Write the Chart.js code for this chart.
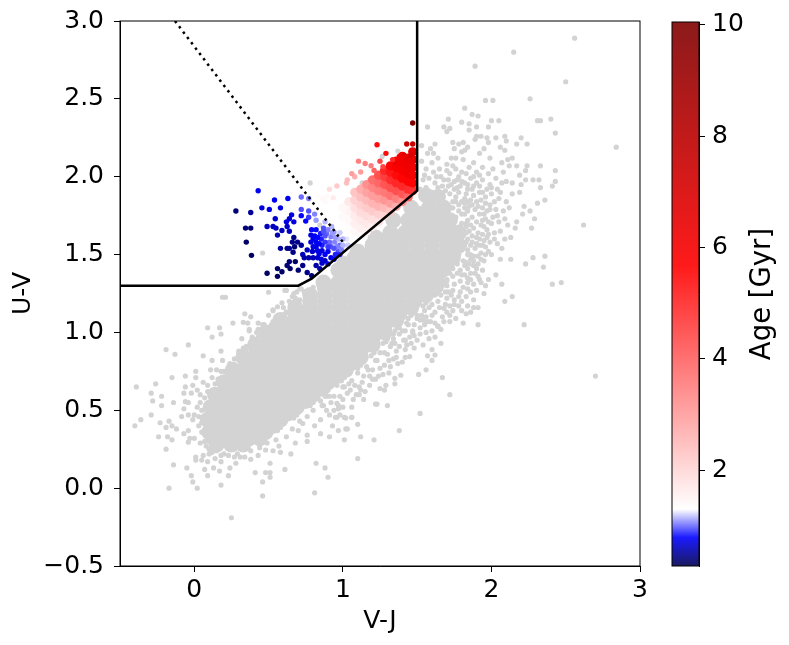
<!DOCTYPE html>
<html>
<head>
<meta charset="utf-8">
<title>UVJ diagram</title>
<script src="https://cdn.jsdelivr.net/npm/chart.js@4"></script>
<style>
  body { margin: 0; background: #fff; }
  #uvj { position: absolute; left: 0; top: 0; }
  #cbar { position: absolute; left: 640px; top: 0; }
</style>
</head>
<body>
<canvas id="uvj" width="789" height="645"></canvas>
<canvas id="cbar" width="149" height="645"></canvas>
<script>
// tick labels
const xTicks = [0, 1, 2, 3];
const yTicks = [-0.5, 0, 0.5, 1, 1.5, 2, 2.5, 3];
const ageTicks = [2, 4, 6, 8, 10];

// selection box and the dotted diagonal, V-J / U-V
const boxLine = [[-0.5, 1.3], [0.7, 1.3], [0.79, 1.345], [1.5, 1.91], [1.5, 3]];
const dotLine = [[-0.13, 3], [1.0, 1.58]];

// dense middle of the grey cloud, read row by row
const greyCore = [
  [.15,.28],[.25,.28],[.33,.28],
  [.13,.32],[.21,.32],[.29,.32],[.37,.32],[.44,.32],
  [.10,.36],[.20,.36],[.30,.36],[.40,.36],[.48,.36],
  [.15,.40],[.25,.40],[.35,.40],[.45,.40],[.53,.40],
  [.09,.44],[.19,.44],[.29,.44],[.39,.44],[.49,.44],[.58,.44],
  [.13,.48],[.23,.48],[.33,.48],[.43,.48],[.53,.48],[.63,.48],
  [.11,.52],[.21,.52],[.31,.52],[.41,.52],[.51,.52],[.61,.52],[.69,.52],
  [.17,.56],[.27,.56],[.37,.56],[.47,.56],[.57,.56],[.67,.56],[.75,.56],
  [.14,.60],[.24,.60],[.34,.60],[.44,.60],[.54,.60],[.64,.60],[.74,.60],[.80,.60],
  [.22,.64],[.32,.64],[.42,.64],[.52,.64],[.62,.64],[.72,.64],[.82,.64],[.86,.64],
  [.20,.68],[.30,.68],[.40,.68],[.50,.68],[.60,.68],[.70,.68],[.80,.68],[.90,.68],
  [.28,.72],[.38,.72],[.48,.72],[.58,.72],[.68,.72],[.78,.72],[.88,.72],[.96,.72],
  [.26,.76],[.36,.76],[.46,.76],[.56,.76],[.66,.76],[.76,.76],[.86,.76],[.96,.76],[1.02,.76],
  [.35,.80],[.45,.80],[.55,.80],[.65,.80],[.75,.80],[.85,.80],[.95,.80],[1.05,.80],
  [.33,.84],[.43,.84],[.53,.84],[.63,.84],[.73,.84],[.83,.84],[.93,.84],[1.03,.84],[1.12,.84],
  [.42,.88],[.52,.88],[.62,.88],[.72,.88],[.82,.88],[.92,.88],[1.02,.88],[1.12,.88],
  [.41,.92],[.51,.92],[.61,.92],[.71,.92],[.81,.92],[.91,.92],[1.01,.92],[1.11,.92],[1.20,.92],
  [.50,.96],[.60,.96],[.70,.96],[.80,.96],[.90,.96],[1.0,.96],[1.1,.96],[1.2,.96],
  [.49,1.0],[.59,1.0],[.69,1.0],[.79,1.0],[.89,1.0],[.99,1.0],[1.09,1.0],[1.19,1.0],[1.28,1.0],
  [.58,1.04],[.68,1.04],[.78,1.04],[.88,1.04],[.98,1.04],[1.08,1.04],[1.18,1.04],[1.28,1.04],
  [.58,1.08],[.68,1.08],[.78,1.08],[.88,1.08],[.98,1.08],[1.08,1.08],[1.18,1.08],[1.28,1.08],[1.36,1.08],
  [.68,1.12],[.78,1.12],[.88,1.12],[.98,1.12],[1.08,1.12],[1.18,1.12],[1.28,1.12],[1.38,1.12],
  [.68,1.16],[.78,1.16],[.88,1.16],[.98,1.16],[1.08,1.16],[1.18,1.16],[1.28,1.16],[1.38,1.16],[1.46,1.16],
  [.78,1.20],[.88,1.20],[.98,1.20],[1.08,1.20],[1.18,1.20],[1.28,1.20],[1.38,1.20],[1.48,1.20],
  [.78,1.24],[.88,1.24],[.98,1.24],[1.08,1.24],[1.18,1.24],[1.28,1.24],[1.38,1.24],[1.48,1.24],[1.56,1.24],
  [.88,1.28],[.98,1.28],[1.08,1.28],[1.18,1.28],[1.28,1.28],[1.38,1.28],[1.48,1.28],[1.58,1.28],
  [.87,1.32],[.97,1.32],[1.07,1.32],[1.17,1.32],[1.27,1.32],[1.37,1.32],[1.47,1.32],[1.57,1.32],[1.64,1.32],
  [1.0,1.36],[1.1,1.36],[1.2,1.36],[1.3,1.36],[1.4,1.36],[1.5,1.36],[1.6,1.36],
  [.97,1.40],[1.07,1.40],[1.17,1.40],[1.27,1.40],[1.37,1.40],[1.47,1.40],[1.57,1.40],[1.67,1.40],
  [1.01,1.44],[1.1,1.44],[1.2,1.44],[1.3,1.44],[1.4,1.44],[1.5,1.44],[1.6,1.44],[1.7,1.44],
  [1.08,1.48],[1.18,1.48],[1.28,1.48],[1.38,1.48],[1.48,1.48],[1.58,1.48],[1.68,1.48],[1.74,1.48],
  [1.1,1.52],[1.2,1.52],[1.3,1.52],[1.4,1.52],[1.5,1.52],[1.6,1.52],[1.7,1.52],
  [1.2,1.56],[1.3,1.56],[1.4,1.56],[1.5,1.56],[1.6,1.56],[1.7,1.56],[1.78,1.56],
  [1.22,1.61],[1.3,1.60],[1.4,1.60],[1.5,1.60],[1.6,1.60],[1.7,1.60],
  [1.32,1.64],[1.42,1.64],[1.52,1.64],[1.62,1.64],[1.72,1.64],[1.78,1.64],
  [1.45,1.68],[1.55,1.68],[1.65,1.68],
  [1.34,1.72],[1.44,1.72],[1.54,1.72],[1.64,1.72],[1.72,1.72],
  [1.46,1.80],[1.58,1.80],[1.68,1.80],[1.56,1.88],[1.64,1.87],[1.52,1.76],[1.62,1.76]
];

// single grey points around the core
const greyPoints = [
  // far left and below
  [.19,1.226],[.21,1.226],[.50,1.258],[.09,1.03],[.17,1.03],[.26,1.06],[.34,1.12],[.38,1.10],[.33,1.065],[.36,1.06],
  [.43,1.06],[.47,1.05],[.53,1.145],[.59,1.19],[.56,1.165],[.12,.97],[.18,.99],[.37,1.01],[.32,.96],[-.04,.92],
  [-.19,.89],[-.13,.86],[.06,.85],[.18,.88],[.12,.82],[.19,.82],[.24,.80],[.01,.75],[-.06,.72],[.01,.71],
  [-.15,.71],[-.26,.67],[-.39,.65],[-.29,.61],[-.28,.56],[-.22,.59],[-.22,.53],[-.14,.55],[-.29,.47],[-.36,.44],
  [-.40,.40],[-.23,.42],[-.17,.43],[-.19,.39],[-.15,.40],[-.12,.38],[-.24,.33],[-.18,.33],[-.15,.31],[-.19,.25],
  [-.14,.15],[-.17,0],[-.05,.13],[-.02,.08],[-.01,.04],[.02,0],[.18,.02],[.25,-.19],[.46,-.05],[.46,.04],
  [.41,.10],[.48,.10],[.51,.10],[.51,.07],[.61,.12],[.81,-.03],[.90,.07],[.88,.13],[.82,.16],[1.10,.19],
  [1.21,.31],[1.12,.33],[1.01,.31],[.91,.33],[.51,.16],[.23,.08],[.09,.08],[.07,.12],[.17,.11],[.13,.13],
  [.18,.17],[.09,.17],[.05,.18],[.01,.20],[.28,.16],[.24,.13],
  // lower right edge
  [1.22,.54],[1.07,.57],[1.09,.60],[1.12,.63],[1.15,.62],[1.18,.66],[1.22,.70],[1.05,.63],[1.0,.65],[.96,.66],
  [.98,.59],[.94,.59],[.89,.59],[.87,.53],[.97,.53],[.97,.51],[.89,.50],[.91,.47],[.96,.455],[1.01,.455],
  [1.06,.455],[1.10,.41],[.93,.40],[.97,.37],[1.03,.38],[.85,.44],[.81,.40],[.76,.34],[.76,.30],[.68,.29],
  [.65,.22],[.70,.37],[.73,.415],[.85,.35],[.57,.27],[.58,.23],[.53,.24],[.48,.245],[.43,.21],[.38,.185],
  [1.23,.54],[1.30,.53],[1.52,.48],[1.38,.37],[1.02,.38],[1.06,.455],[1.02,.45],[.98,.47],[.95,.455],[.96,.545],
  [.86,.53],[1.0,.57],[1.11,.60],[1.03,.61],[.91,.59],[.88,.59],[1.20,.70],[1.11,.65],[1.04,.67],[1.01,.65],
  [1.28,.63],[1.29,.66],[1.35,.705],[1.39,.725],[1.35,.67],[1.27,.73],[1.51,.73],[1.56,.76],[1.67,.71],[1.72,.60],
  [1.60,.82],[1.57,.85],[1.62,.855],[1.60,.89],[1.66,.93],[1.62,.97],[1.56,1.0],[1.64,1.04],[1.47,1.0],[1.45,.97],
  [1.41,.95],[1.46,.93],[1.38,.91],[1.42,.89],[1.45,.845],[1.40,.81],[1.37,.80],[1.34,.83],[1.28,.79],[1.23,.82],
  [1.32,.91],[1.35,.93],[1.29,.94],[1.50,1.11],[1.56,1.10],[1.62,1.13],[1.68,1.155],[1.59,1.07],[1.52,1.08],[1.71,1.26],
  [1.14,.72],[1.10,.74],[1.06,.69],[1.16,.78],[1.20,.76],[1.25,.87],[1.30,.86],[1.34,.96],[1.40,1.01],[1.43,1.06],
  [.92,.55],[.85,.56],[.80,.50],[.76,.46],[.71,.43],[.66,.38],[.62,.33],[.55,.31],[.49,.29],[.44,.26],
  [.38,.24],[.34,.20],[.27,.20],[.23,.21],[.18,.21],[.14,.19],[.10,.25],[.07,.30],
  [.45,.29],[.47,.31],[.56,.37],[.58,.39],[.67,.45],[.69,.47],[.78,.53],[.80,.55],[.88,.61],[.90,.63],
  [.99,.69],[1.01,.71],[1.1,.77],[1.12,.79],[1.19,.85],[1.21,.87],[1.27,.93],[1.29,.95],[1.35,1.01],[1.37,1.03],
  [1.44,1.09],[1.46,1.11],[1.54,1.17],[1.56,1.19],[1.63,1.25],[1.65,1.27],[1.70,1.33],[1.74,1.41],[1.78,1.50],
  [1.32,.78],[1.36,.84],[1.42,.84],[1.48,.90],[1.50,.95],[1.54,.92],[1.58,.96],[1.60,1.01],[1.66,1.02],[1.68,1.07],
  [1.72,1.11],[1.76,1.09],[1.80,1.14],[1.84,1.17],[1.88,1.16],[1.75,1.18],[1.70,1.13],[1.54,1.08],[1.48,.98],[1.43,.92],
  [1.31,.74],[1.24,.72],[1.18,.72],[1.13,.68],[1.08,.66],[.94,.50],[1.0,.52],[1.06,.52],[1.14,.57],[1.25,.64],
  // left edge
  [-.06,.555],[-.07,.61],[-.02,.61],[-.01,.66],[-.06,.65],[.02,.63],[-.04,.55],[-.07,.51],[-.085,.46],[-.04,.47],
  [-.01,.44],[.03,.40],[-.04,.37],[-.07,.35],[-.03,.32],[-.04,.295],[0,.32],[.04,.29],[.11,.76],[.15,.76],
  [.18,.75],[.09,.66],[.04,.60],[.02,.52],[.0,.47],[.05,.36],[.08,.27],[.12,.23],[.06,.68],[.12,.71],[.16,.70],
  [.05,.42],[.05,.50],[.07,.58],[.09,.62],[.10,.30],[.03,.46],[.04,.55],[.14,.67],[.2,.75],[.27,.83],
  // upper edge
  [.42,1.0],[.39,.96],[.33,.90],[.30,.87],[.29,.83],[.48,.98],[.53,1.07],[.57,1.09],[.62,1.13],[.64,1.20],
  [.61,1.27],[.69,1.26],[.66,1.23],[.72,1.28],[.25,.78],[.22,.74],[.45,1.02],[.60,1.16],[.68,1.22],
  [.39,.97],[.37,1.02],[.43,1.02],[.46,1.05],[.50,1.11],[.53,1.14],[.61,1.12],[.62,1.27],[.67,1.25],[.71,1.28],
  [.55,1.08],[.45,.98],[.41,.94],[.35,.91],[.30,.88],[.52,1.0],[.60,1.08],
  [.35,.89],[.43,.97],[.52,1.05],[.62,1.13],[.71,1.21],[.8,1.29],[.74,1.26],[.65,1.17],[.56,1.1],[.47,1.0],
  // under the core
  [.15,.24],[.20,.22],[.29,.22],[.31,.20],[.10,.22],[.06,.21],[.01,.18],
  // upper right, outer
  [2.56,2.89],[2.15,2.80],[1.89,2.71],[2.50,2.61],[2.26,2.50],[1.96,2.49],[2.01,2.49],[1.82,2.44],[1.87,2.40],[1.91,2.39],
  [1.71,2.37],[2.40,2.37],[2.0,2.36],[2.05,2.36],[2.31,2.36],[2.33,2.36],[1.80,2.35],[1.85,2.34],[1.57,2.32],[1.68,2.32],
  [1.72,2.31],[1.90,2.32],[1.98,2.32],[1.85,2.30],[1.70,2.29],[2.43,2.28],[2.84,2.19],[2.20,2.25],[2.09,2.26],[2.03,2.25],
  [1.97,2.25],[1.93,2.26],[1.90,2.26],[1.89,2.24],[1.98,2.22],[2.10,2.23],[2.17,2.21],[2.24,2.21],[2.06,2.19],[2.09,2.17],
  [1.95,2.18],[1.74,2.22],[1.78,2.21],[1.81,2.22],[1.62,2.21],[1.59,2.18],[1.53,2.20],[1.57,2.15],[1.61,2.15],[1.75,2.18],
  [1.84,2.19],[1.82,2.17],[1.80,2.16],[1.92,2.15],[1.99,2.12],[2.14,2.12],[2.11,2.11],[2.07,2.09],[1.81,2.11],[1.64,2.12],
  [1.73,2.12],[1.76,2.12],[1.88,2.09],[2.12,2.07],[2.17,2.07],[2.24,2.07],[2.33,2.07],[2.43,2.04],[2.23,2.04],[2.19,2.01],
  [2.08,2.03],[2.01,2.05],[2.32,1.98],[2.28,1.98],[2.43,1.97],[2.41,1.94],[2.33,1.93],[2.23,1.98],[2.20,1.95],[2.14,1.96],
  [2.10,1.97],[2.07,1.96],[2.19,1.90],[2.14,1.89],[2.36,1.85],[2.31,1.83],[2.22,1.81],[2.26,1.78],[2.21,1.76],[2.29,1.73],
  [2.17,1.71],[2.62,1.69],[2.27,1.67],[2.16,1.67],[2.11,1.69],[2.13,1.61],[2.36,1.49],[2.28,1.48],[2.35,1.42],[2.23,1.44],
  [2.13,1.47],[2.06,1.47],[2.41,1.31],[2.07,1.31],[2.03,1.37],[2.14,1.23],[2.09,1.20],[1.91,1.16],[1.88,1.21],[1.95,1.25],
  [1.72,1.17],[1.91,1.05],[1.81,1.06],[1.83,1.12],[1.86,1.13],[1.78,1.17],[1.64,1.04],[1.72,1.07],
  [2.70,.72],[2.47,1.32],[2.22,1.05],
  // upper right, inner crowd
  [1.53,2.10],[1.56,2.05],[1.60,2.09],[1.65,2.05],[1.70,2.08],[1.54,1.98],[1.58,1.99],[1.63,2.0],[1.68,1.98],[1.72,2.02],
  [1.76,2.05],[1.80,2.03],[1.85,2.06],[1.90,2.03],[1.94,2.06],[1.98,2.02],[2.03,1.99],[1.52,1.92],[1.56,1.93],[1.60,1.90],
  [1.64,1.93],[1.69,1.91],[1.73,1.95],[1.77,1.98],[1.82,1.96],[1.86,1.99],[1.90,1.96],[1.94,1.98],[1.99,1.95],[2.04,1.92],
  [1.78,1.90],[1.83,1.89],[1.87,1.92],[1.92,1.90],[1.96,1.87],[2.0,1.89],[2.05,1.86],[2.10,1.84],[1.74,1.84],[1.80,1.84],
  [1.85,1.81],[1.90,1.84],[1.94,1.80],[1.99,1.82],[2.03,1.79],[2.08,1.78],[2.12,1.80],[1.82,1.76],[1.87,1.74],[1.92,1.76],
  [1.96,1.73],[2.01,1.74],[2.05,1.71],[2.09,1.73],[1.83,1.68],[1.88,1.67],[1.93,1.69],[1.97,1.66],[2.02,1.64],[2.06,1.65],
  [2.09,1.60],[1.84,1.60],[1.90,1.61],[1.95,1.59],[1.99,1.58],[2.04,1.57],[2.07,1.54],[1.84,1.53],[1.89,1.54],[1.93,1.51],
  [1.98,1.52],[1.81,1.46],[1.86,1.47],[1.91,1.44],[1.95,1.46],[1.79,1.40],[1.84,1.41],[1.89,1.38],[1.94,1.40],[1.74,1.36],
  [1.79,1.33],[1.84,1.35],[1.88,1.31],[1.93,1.32],[1.98,1.34],[1.70,1.30],[1.74,1.27],[1.79,1.26],[1.84,1.28],[1.90,1.27],
  [1.66,1.24],[1.70,1.22],[1.75,1.21],[1.80,1.20],[1.60,1.18],[1.65,1.16],[1.55,1.14],[1.60,1.11],[1.50,1.09],[1.55,1.05],
  [1.44,1.05],[1.47,1.01],[1.52,.99],[1.38,.99],[1.42,.95],[1.33,.93],[1.36,.88],[1.28,.87],[1.31,.82],[1.22,.82],[1.25,.77],[1.17,.76],
  [1.55,2.01],[1.62,1.96],[1.67,1.94],[1.71,1.98],[1.75,1.92],[1.79,1.94],[1.84,1.92],[1.88,1.88],[1.92,1.94],[1.97,1.92],
  [1.76,1.87],[1.82,1.80],[1.86,1.85],[1.89,1.79],[1.93,1.85],[1.97,1.78],[2.02,1.84],[2.06,1.90],[1.78,1.78],[1.84,1.72],
  [1.80,1.70],[1.85,1.65],[1.90,1.71],[1.95,1.68],[2.0,1.70],[2.04,1.75],[1.81,1.63],[1.87,1.58],[1.92,1.56],[1.97,1.61],
  [2.02,1.60],[1.82,1.56],[1.86,1.50],[1.91,1.49],[1.96,1.55],[2.0,1.50],[1.78,1.51],[1.77,1.44],[1.83,1.45],[1.88,1.43],
  [1.72,1.38],[1.77,1.38],[1.82,1.37],[1.86,1.34],[1.91,1.36],[1.96,1.30],[1.70,1.34],[1.75,1.31],[1.81,1.29],[1.86,1.26],
  [1.66,1.28],[1.69,1.26],[1.73,1.24],[1.78,1.23],[1.83,1.23],[1.62,1.24],[1.64,1.20],[1.69,1.18],[1.74,1.14],[1.58,1.16],
  [1.53,1.11],[1.57,1.07],[1.62,1.06],[1.67,1.10],[1.48,1.05],[1.52,1.03],[1.42,1.01],[1.38,1.03],[1.34,.99],[1.30,.96],
  [1.61,2.03],[1.66,2.00],[1.70,2.04],[1.74,2.07],[1.78,2.0],[1.83,2.02],[1.88,2.0],[1.92,2.01],[1.75,1.97],[1.80,1.97],
  [1.84,1.95],[1.88,1.94],[1.71,1.94],[1.77,1.93],[1.72,1.89],[1.76,1.84],[1.82,1.86],[1.84,1.84],[1.78,1.82],[1.74,1.80],
  [1.82,1.83],[1.87,1.82],[1.84,1.78],[1.80,1.76],[1.76,1.74],[1.79,1.68],[1.83,1.70],[1.86,1.69],[1.80,1.66],[1.83,1.64],
  [1.87,1.62],[1.83,1.58],[1.86,1.56],[1.80,1.53],[1.84,1.50],[1.88,1.49],[1.82,1.43],[1.85,1.44],[1.80,1.37],[1.84,1.32],
  [2.0,1.93],[1.94,1.90],[1.96,1.83],[1.91,1.81],[1.95,1.76],[1.99,1.79],[1.94,1.72],[1.98,1.71],[1.91,1.64],[1.94,1.63],
  [1.98,1.63],[1.92,1.60],[1.90,1.57],[1.94,1.56],[1.96,1.50],[1.93,1.47],[1.88,1.46],[1.90,1.41],[1.86,1.38],[1.92,1.34],
  // grey points among the coloured ones
  [.78,1.96],[.46,1.51],[1.265,2.13],[1.37,2.165],[1.13,1.96],[.845,1.69],[1.18,1.98]
];

// coloured points inside the box: V-J, U-V, age in Gyr
const boxYoung = [
  [.43,1.91,.75],[.54,1.85,.75],[.63,1.86,.75],[.28,1.78,.4],[.38,1.77,.5],[.455,1.80,.7],[.505,1.79,.7],[.58,1.80,.7],
  [.72,1.87,1.0],[.77,1.86,1.05],[.72,1.79,.95],[.77,1.78,.95],[.72,1.75,.8],[.655,1.755,.7],[.545,1.73,.65],[.64,1.73,.65],
  [.62,1.71,.7],[.67,1.71,.7],[.77,1.74,.9],[.75,1.715,.8],[.81,1.76,1.05],[.345,1.67,.4],[.38,1.67,.4],[.49,1.68,.6],
  [.53,1.68,.6],[.55,1.67,.6],[.625,1.68,.65],[.59,1.655,.6],[.64,1.65,.6],[.56,1.625,.55],[.35,1.58,.35],[.385,1.495,.35],
  [.58,1.54,.5],[.67,1.61,.45],[.66,1.58,.45],[.695,1.58,.45],[.64,1.54,.5],[.625,1.54,.45],[.72,1.56,.5],[.675,1.55,.4],
  [.665,1.515,.45],[.76,1.53,.6],[.73,1.50,.6],[.74,1.48,.55],[.77,1.48,.55],[.795,1.52,.65],[.80,1.48,.6],[.83,1.525,.7],
  [.83,1.48,.65],[.86,1.525,.7],[.88,1.46,.6],[.90,1.52,.75],[.92,1.48,.7],[.855,1.47,.7],[.64,1.455,.4],[.68,1.455,.35],
  [.73,1.43,.45],[.625,1.43,.4],[.645,1.41,.35],[.70,1.40,.4],[.56,1.41,.35],[.59,1.39,.35],[.49,1.38,.35],[.56,1.36,.35],
  [.76,1.385,.45],[.79,1.365,.4],[.82,1.43,.55],[.845,1.41,.55],
  [.82,1.72,1.1],[.88,1.71,1.15],[.925,1.68,1.15],[.98,1.64,1.2],[1.025,1.60,1.25],[1.035,1.56,1.2],[1.0,1.60,1.15],
  [.94,1.645,1.1],[.92,1.615,1.05],[.945,1.58,1.05],[.89,1.635,1.0],[.91,1.58,1.0],[.98,1.56,1.0],[.97,1.52,.95],[.98,1.50,.85],
  [.87,1.67,.95],[.85,1.635,.85],[.855,1.60,.85],[.79,1.66,.8],[.82,1.66,.8],[.785,1.625,.7],[.81,1.62,.75],[.785,1.58,.7],[.82,1.58,.75],
  [.97,1.6,1.15],[.95,1.61,1.1],[.93,1.64,1.1],[.9,1.66,1.05],[1.0,1.56,1.15],[.96,1.55,1.05],[.99,1.53,1.05],[.94,1.54,.95],
  [.92,1.55,.95],[.9,1.55,.9],[.95,1.5,.85],[.94,1.47,.8],[.88,1.62,.95],[.87,1.65,.95],[.88,1.58,.9],[.86,1.56,.85],
  [.88,1.5,.78],[.84,1.505,.72],[.9,1.44,.7],[.86,1.445,.65],[.84,1.57,.75],[.83,1.61,.8],[.80,1.60,.75],[.80,1.55,.7],[.82,1.55,.72]
];
const boxFill = [
  [1.0,1.54,1.28],[1.02,1.62,1.3],[1.04,1.58,1.3],[1.0,1.68,1.32],[1.04,1.66,1.35],[1.04,1.72,1.4],[1.0,1.74,1.38],[1.04,1.78,1.5],[1.0,1.8,1.42],[1.04,1.84,1.7],
  [1.08,1.6,1.32],[1.08,1.65,1.42],[1.08,1.7,1.55],[1.08,1.75,1.65],[1.08,1.8,1.85],[1.08,1.85,2.05],[1.08,1.9,2.3],
  [1.12,1.62,1.38],[1.12,1.67,1.55],[1.12,1.72,1.7],[1.12,1.77,1.9],[1.12,1.82,2.1],[1.12,1.87,2.4],[1.12,1.92,2.7],
  [1.16,1.65,1.5],[1.16,1.7,1.7],[1.16,1.75,1.9],[1.16,1.8,2.2],[1.16,1.85,2.5],[1.16,1.9,2.9],[1.16,1.95,3.2],
  [1.2,1.68,1.6],[1.2,1.73,1.85],[1.2,1.78,2.2],[1.2,1.83,2.6],[1.2,1.88,3],[1.2,1.93,3.4],[1.2,1.98,3.8],
  [1.24,1.71,1.8],[1.24,1.76,2.1],[1.24,1.81,2.6],[1.24,1.86,3],[1.24,1.91,3.5],[1.24,1.96,3.9],[1.24,2.01,4.3],
  [1.28,1.75,2.0],[1.28,1.8,2.5],[1.28,1.85,3.1],[1.28,1.9,3.6],[1.28,1.95,4.2],[1.28,2.0,4.6],[1.28,2.04,5],
  [1.32,1.78,2.3],[1.32,1.83,3],[1.32,1.88,3.7],[1.32,1.93,4.3],[1.32,1.98,4.9],[1.32,2.03,5.3],[1.32,2.07,5.6],
  [1.36,1.81,2.7],[1.36,1.86,3.5],[1.36,1.91,4.3],[1.36,1.96,5],[1.36,2.01,5.5],[1.36,2.06,5.8],[1.36,2.1,6],
  [1.4,1.84,3.2],[1.4,1.89,4.2],[1.4,1.94,5],[1.4,1.99,5.6],[1.4,2.04,5.9],[1.4,2.09,6.1],[1.4,2.13,6.2],
  [1.44,1.87,3.9],[1.44,1.92,4.9],[1.44,1.97,5.6],[1.44,2.02,6],[1.44,2.07,6.2],[1.44,2.12,6.3],
  [1.47,1.91,4.8],[1.47,1.96,5.6],[1.47,2.01,6],[1.47,2.06,6.2],[1.47,2.11,6.4],[1.47,2.16,6.6]
];
const boxOld = [
  [.89,1.875,1.4],[.86,1.86,1.4],[.835,1.875,1.35],[.88,1.84,1.4],[.935,1.865,1.6],[.91,1.92,1.9],[.96,1.94,2.2],[1.025,1.96,2.4],
  [1.03,1.98,2.5],[1.08,2.0,2.7],[1.06,2.02,3],[1.12,2.03,3],[1.105,2.10,3.5],[1.15,2.085,3.5],[1.19,2.07,3.5],[1.21,2.04,4],
  [1.25,2.10,4.5],[1.27,2.065,4.5],[1.335,2.11,5],[1.29,2.15,5.5],[1.23,2.205,5.5],[1.38,2.13,6],[1.41,2.14,6.5],[1.43,2.12,6.5],
  [1.46,2.14,7],[1.43,2.21,7.5],[1.47,2.21,7.5],[1.47,2.345,10]
];

// colour map anchors (seismic stretched around 1.3 Gyr)
const ageStops = [0.28, 0.79, 1.3, 5.67, 10.05];
const ageColors = [[0, 0, 77], [0, 0, 255], [255, 255, 255], [255, 0, 0], [127, 0, 0]];

function ageRgb(age) {
  let i = 0;
  while (i < ageStops.length - 2 && age > ageStops[i + 1]) i++;
  const t = Math.min(1, Math.max(0, (age - ageStops[i]) / (ageStops[i + 1] - ageStops[i])));
  return ageColors[i].map((c, k) => Math.round(c + (ageColors[i + 1][k] - c) * t));
}

const toXY = p => ({ x: p[0], y: p[1], age: p[2] });
const ageFill = ctx => {
  const c = ageRgb(ctx.raw ? ctx.raw.age : 1.3);
  return `rgb(${c[0]},${c[1]},${c[2]})`;
};

const font = size => ({ family: "DejaVu Sans", size: size });

const frame = {
  id: "frame",
  afterDraw(chart) {
    const a = chart.chartArea, g = chart.ctx;
    g.save();
    g.strokeStyle = "#000";
    g.lineWidth = 1;
    g.strokeRect(a.left, a.top, a.right - a.left, a.bottom - a.top);
    g.restore();
  }
};

new Chart(document.getElementById("uvj"), {
  type: "scatter",
  data: {
    datasets: [
      { data: greyCore.map(toXY), backgroundColor: "#d3d3d3", pointRadius: 8, borderWidth: 0, order: 7 },
      { data: greyPoints.map(toXY), backgroundColor: "#d3d3d3", pointRadius: 2.6, borderWidth: 0, order: 6 },
      { data: boxFill.map(toXY), backgroundColor: ageFill, pointRadius: 4.6, borderWidth: 0, order: 5 },
      { data: boxOld.map(toXY), backgroundColor: ageFill, pointRadius: 2.7, borderWidth: 0, order: 4 },
      { data: boxYoung.map(toXY), backgroundColor: ageFill, pointRadius: 2.7, borderWidth: 0, order: 3 },
      { type: "line", data: dotLine.map(toXY), borderColor: "#000", borderWidth: 2.5, borderDash: [2.5, 4.2], pointRadius: 0, order: 2 },
      { type: "line", data: boxLine.map(toXY), borderColor: "#000", borderWidth: 2.5, pointRadius: 0, order: 1 }
    ]
  },
  options: {
    responsive: false,
    animation: false,
    devicePixelRatio: 1,
    layout: { padding: { top: 21, right: 149, left: 0, bottom: 0 } },
    plugins: { legend: { display: false }, tooltip: { enabled: false } },
    scales: {
      x: {
        type: "linear", min: -0.5, max: 3,
        afterFit: s => { s.height = 79; },
        afterBuildTicks: s => { s.ticks = xTicks.map(v => ({ value: v })); },
        grid: { drawOnChartArea: false, color: "#000", tickLength: 6 },
        border: { color: "#000" },
        ticks: { color: "#000", font: font(25), maxRotation: 0, padding: 3, callback: v => String(v) },
        title: { display: true, text: "V-J", color: "#000", font: font(25), padding: 9 }
      },
      y: {
        type: "linear", min: -0.5, max: 3,
        // tick padding would otherwise push the plot top down
        afterFit: s => { s.width = 120; s.paddingTop = 0; s.paddingBottom = 0; },
        afterBuildTicks: s => { s.ticks = yTicks.map(v => ({ value: v })); },
        grid: { drawOnChartArea: false, color: "#000", tickLength: 6 },
        border: { color: "#000" },
        ticks: { color: "#000", font: font(25), padding: 10, callback: v => v.toFixed(1).replace("-", "\u2212") },
        title: { display: true, text: "U-V", color: "#000", font: font(25), padding: 8 }
      }
    }
  },
  plugins: [frame]
});

// colour bar: one floating bar over the age range
const ageTitle = {
  id: "ageTitle",
  afterDraw(chart) {
    const a = chart.chartArea, g = chart.ctx;
    g.save();
    g.translate(123, (a.top + a.bottom) / 2);
    g.rotate(-Math.PI / 2);
    g.fillStyle = "#000";
    g.font = "27.5px 'DejaVu Sans'";
    g.textAlign = "center";
    g.textBaseline = "middle";
    g.fillText("Age [Gyr]", 0, 0);
    g.restore();
  }
};

new Chart(document.getElementById("cbar"), {
  type: "bar",
  data: {
    labels: ["Age"],
    datasets: [{
      data: [[ageStops[0], ageStops[4]]],
      barPercentage: 1,
      categoryPercentage: 1,
      backgroundColor(ctx) {
        const a = ctx.chart.chartArea;
        if (!a) return "#fff";
        const grad = ctx.chart.ctx.createLinearGradient(0, a.bottom, 0, a.top);
        ageStops.forEach((s, i) => {
          const c = ageColors[i].map(v => Math.round(v * 0.9 + 25.5));
          grad.addColorStop((s - ageStops[0]) / (ageStops[4] - ageStops[0]), `rgb(${c[0]},${c[1]},${c[2]})`);
        });
        return grad;
      }
    }]
  },
  options: {
    responsive: false,
    animation: false,
    devicePixelRatio: 1,
    layout: { padding: { top: 21, left: 32, right: 0, bottom: 79 } },
    plugins: { legend: { display: false }, tooltip: { enabled: false } },
    scales: {
      x: { display: false },
      y: {
        position: "right", min: ageStops[0], max: ageStops[4],
        afterFit: s => { s.width = 90; },
        afterBuildTicks: s => { s.ticks = ageTicks.map(v => ({ value: v })); },
        grid: { drawOnChartArea: false, color: "#000", tickLength: 6 },
        border: { color: "#000" },
        ticks: { color: "#000", font: font(25), padding: 7 }
      }
    }
  },
  plugins: [frame, ageTitle]
});
</script>
</body>
</html>
